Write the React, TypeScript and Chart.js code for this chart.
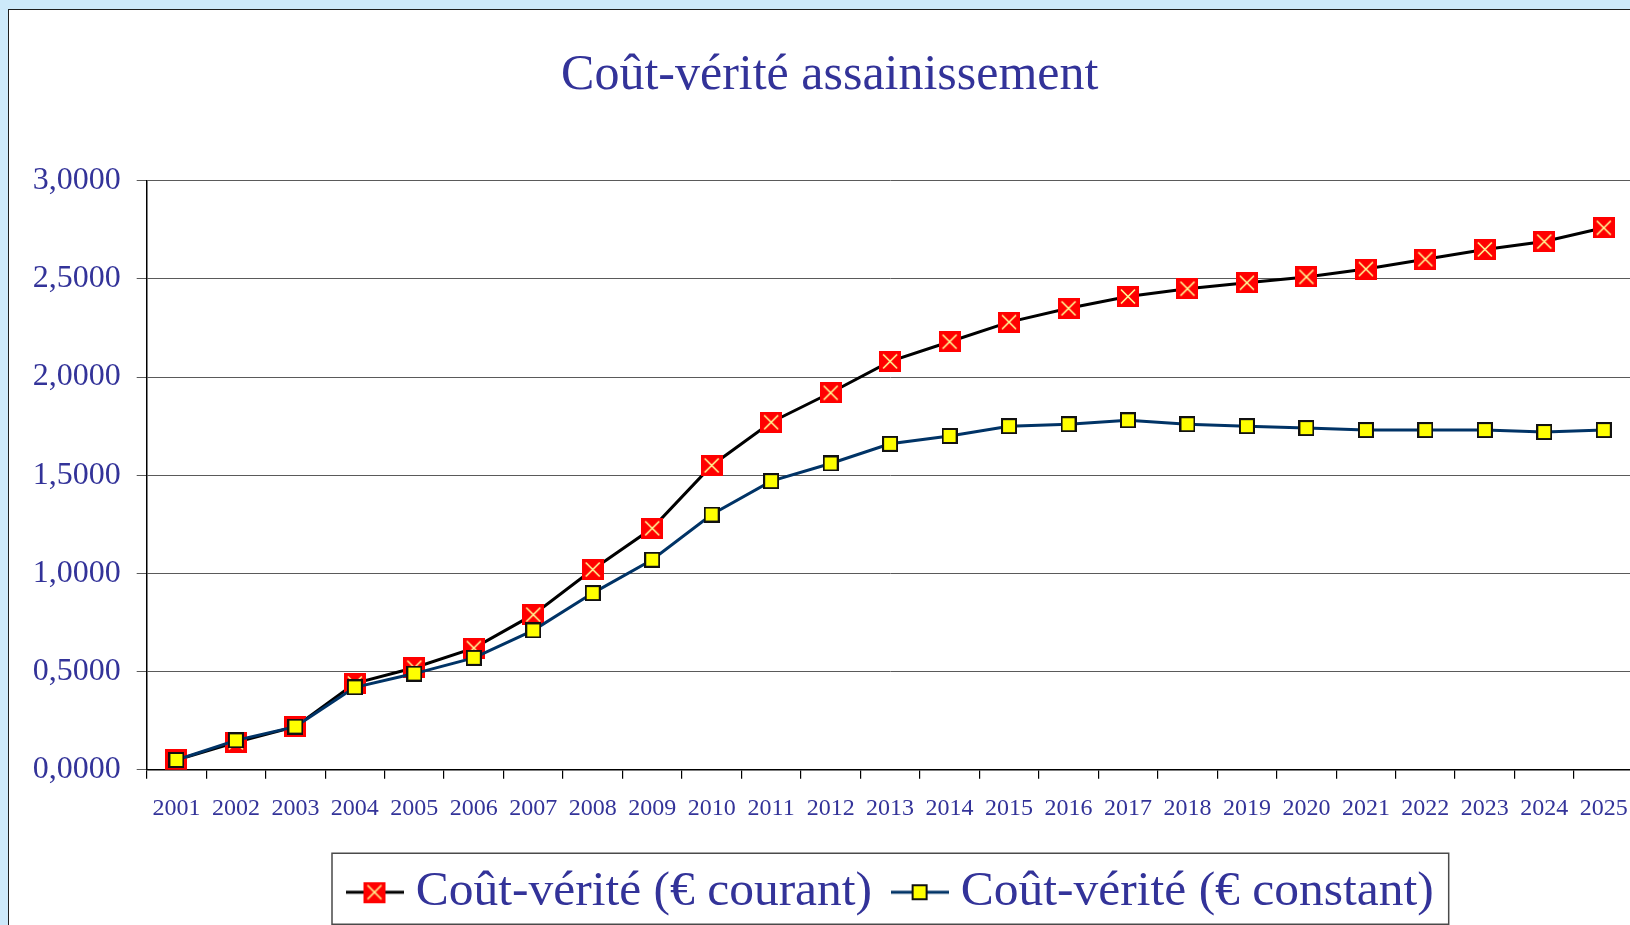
import React, { useEffect, useRef } from "react";
import { Chart, registerables } from "chart.js";

Chart.register(...registerables);

const years = ["2001","2002","2003","2004","2005","2006","2007","2008","2009","2010","2011","2012","2013","2014","2015","2016","2017","2018","2019","2020","2021","2022","2023","2024","2025"];
const courant = [0.05, 0.14, 0.22, 0.44, 0.52, 0.62, 0.79, 1.02, 1.23, 1.55, 1.77, 1.92, 2.08, 2.18, 2.28, 2.35, 2.41, 2.45, 2.48, 2.51, 2.55, 2.60, 2.65, 2.69, 2.76];
const constant = [0.05, 0.15, 0.22, 0.42, 0.49, 0.57, 0.71, 0.90, 1.07, 1.30, 1.47, 1.56, 1.66, 1.70, 1.75, 1.76, 1.78, 1.76, 1.75, 1.74, 1.73, 1.73, 1.73, 1.72, 1.73];
const yTickLabels = ["0,0000", "0,5000", "1,0000", "1,5000", "2,0000", "2,5000", "3,0000"];
const seriesLabels = ["Coût-vérité (€ courant)", "Coût-vérité (€ constant)"];
const titleText = "Coût-vérité assainissement";

const FONT = "'Liberation Serif', 'Times New Roman', serif";
const TEXT = "#333399";
const LEG_SIZE = 49.5;
const LEG_PAD = 31;

function redMarker(): HTMLCanvasElement {
  const c = document.createElement("canvas");
  c.width = 22; c.height = 21;
  const g = c.getContext("2d")!;
  g.fillStyle = "#ff0000";
  g.fillRect(0, 0, 22, 21);
  g.strokeStyle = "#ffff99";
  g.lineWidth = 1.6;
  g.beginPath();
  g.moveTo(4, 3.5); g.lineTo(18, 17.5);
  g.moveTo(18, 3.5); g.lineTo(4, 17.5);
  g.stroke();
  return c;
}

function yellowMarker(): HTMLCanvasElement {
  const c = document.createElement("canvas");
  c.width = 16; c.height = 16;
  const g = c.getContext("2d")!;
  g.fillStyle = "#ffff00";
  g.fillRect(0, 0, 16, 16);
  g.strokeStyle = "#111111";
  g.lineWidth = 2;
  g.strokeRect(1, 1, 14, 14);
  return c;
}

function legendImage(marker: HTMLCanvasElement, color: string): HTMLCanvasElement {
  const c = document.createElement("canvas");
  c.width = 58; c.height = 24;
  const g = c.getContext("2d")!;
  g.strokeStyle = color;
  g.lineWidth = 3;
  g.beginPath();
  g.moveTo(0, 12); g.lineTo(58, 12);
  g.stroke();
  g.drawImage(marker, 29 - marker.width / 2, 12 - marker.height / 2);
  return c;
}

export default function App() {
  const ref = useRef<HTMLCanvasElement>(null);

  useEffect(() => {
    document.documentElement.style.overflow = "hidden";
    document.body.style.overflow = "hidden";
    document.body.style.background = "#cde9fa";
    const red = redMarker();
    const yellow = yellowMarker();
    const legImgs = [legendImage(red, "#000000"), legendImage(yellow, "#003366")];

    const layoutPlugin = {
      id: "layoutTweaks",
      afterLayout(chart: any) {
        const lg = chart.legend;
        if (lg && lg.lineWidths) {
          const p = LEG_PAD;
          const x0 = (lg.left + p + lg.right - lg.lineWidths[0]) / 2;
          const delta = 349 - x0;
          lg.left += delta;
          lg.right += delta;
        }
        const tb = chart.titleBlock;
        if (tb) {
          tb.left += 8.5;
          tb.right += 8.5;
        }
      },
      afterDraw(chart: any) {
        const lg = chart.legend;
        if (!lg || !lg.lineWidths) return;
        const p = LEG_PAD;
        const x0 = (lg.left + p + lg.right - lg.lineWidths[0]) / 2;
        const end = x0 + lg.lineWidths[0] - p;
        const cy = lg.top + p + LEG_SIZE / 2;
        const ctx = chart.ctx;
        ctx.save();
        ctx.strokeStyle = "#4a4a4a";
        ctx.lineWidth = 1.5;
        ctx.strokeRect(x0 - 26, cy - 39, end - x0 + 41, 71);
        ctx.restore();
      },
    };

    const chart = new Chart(ref.current!, {
      type: "line",
      data: {
        labels: years,
        datasets: [
          {
            label: seriesLabels[0],
            data: courant,
            borderColor: "#000000",
            borderWidth: 3,
            pointStyle: red as any,
            pointRadius: 11,
            pointHoverRadius: 11,
            tension: 0,
            order: 1,
          },
          {
            label: seriesLabels[1],
            data: constant,
            borderColor: "#003366",
            borderWidth: 3,
            pointStyle: yellow as any,
            pointRadius: 8,
            pointHoverRadius: 8,
            tension: 0,
            order: 0,
          },
        ],
      },
      options: {
        animation: false,
        responsive: false,
        devicePixelRatio: 1,
        layout: { padding: { left: 0, right: 35.5, top: 0, bottom: 15 } },
        plugins: {
          tooltip: { enabled: false },
          title: {
            display: true,
            text: titleText,
            color: TEXT,
            font: { family: FONT, size: 50, weight: "normal" },
            padding: { top: 34, bottom: 74.7 },
          },
          legend: {
            display: true,
            position: "bottom",
            labels: {
              usePointStyle: true,
              pointStyleWidth: 33,
              padding: LEG_PAD,
              color: TEXT,
              font: { family: FONT, size: LEG_SIZE },
              generateLabels: () =>
                seriesLabels.map((t, i) => ({
                  text: t,
                  pointStyle: legImgs[i] as any,
                  fillStyle: "transparent",
                  strokeStyle: "transparent",
                  lineWidth: 0,
                  hidden: false,
                  datasetIndex: i,
                  fontColor: TEXT,
                })),
            },
          },
        },
        scales: {
          x: {
            type: "category",
            offset: true,
            grid: {
              offset: true,
              drawOnChartArea: false,
              drawTicks: true,
              tickLength: 9,
              color: "#000000",
              lineWidth: 1.2,
            },
            border: { display: true, color: "#000000", width: 1.5 },
            ticks: {
              color: TEXT,
              font: { family: FONT, size: 24 },
              padding: 16,
              maxRotation: 0,
              autoSkip: false,
            },
            afterFit: (s: any) => {
              s.height = 66.7;
            },
          },
          y: {
            type: "linear",
            min: 0,
            max: 3,
            grid: {
              color: "#5a5a5a",
              lineWidth: 1,
              tickLength: 10,
              drawTicks: true,
            },
            border: { display: true, color: "#000000", width: 1.5 },
            ticks: {
              stepSize: 0.5,
              color: TEXT,
              font: { family: FONT, size: 32 },
              padding: 16,
              callback: (_v: any, i: number) => yTickLabels[i],
            },
            afterFit: (s: any) => {
              s.width = 137.7;
            },
          },
        },
      },
      plugins: [layoutPlugin],
    });
    return () => chart.destroy();
  }, []);

  return (
    <div
      style={{
        position: "absolute",
        left: 8,
        top: 9,
        width: 1700,
        height: 1000,
        border: "1px solid #1e1e1e",
        background: "#ffffff",
      }}
    >
      <canvas ref={ref} width={1660} height={930} style={{ display: "block", marginTop: 2 }} />
    </div>
  );
}
